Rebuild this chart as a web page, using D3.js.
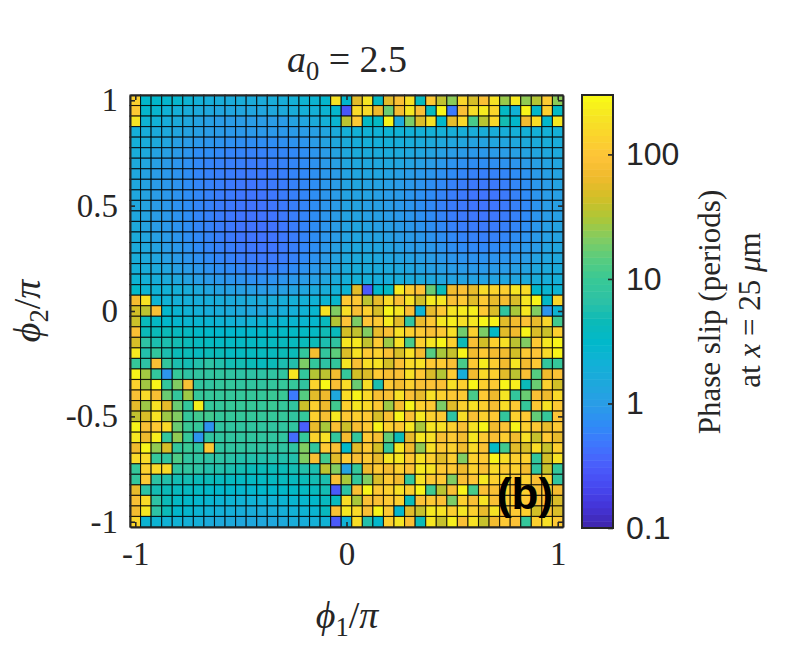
<!DOCTYPE html>
<html>
<head>
<meta charset="utf-8">
<script src="https://cdn.jsdelivr.net/npm/d3@7"></script>
<style>
  html, body { margin: 0; padding: 0; background: #fff; }
  svg { display: block; }
  text { fill: #262626; }
  .serif { font-family: "Liberation Serif", serif; }
  .sans { font-family: "Liberation Sans", sans-serif; }
</style>
</head>
<body>
<div id="chart"></div>
<script>
// phase slip in periods, one list per phi2 row, top row (phi2 = 1) first
const row00 = [130,3,3,2.8,2.7,2.3,2,1.8,1.7,1.6,1.7,1.6,1.6,1.7,1.8,2,2.3,2.4,2.8,190, 3,55,200,3.5,55,85,180,4,110,38,23,150,48,85,190,26,220,24,33,115,23];
const row01 = [110,2.8,2.6,2.2,1.9,1.7,1.5,1.4,1.3,1.3,1.3,1.3,1.3,1.4,1.5,1.7,1.9,2,2.4,2.8, .28,160,160,65,17,75,210,85,4,270,.5,85,170,220,150,3.5,2.2,265,3,130,3.5];
const row02 = [200,2.3,2.1,1.8,1.6,1.4,1.2,1.1,1,1,1,1,1,1,1,1.2,1.3,1.6,2,2.5, 36,110,3.5,3.5,265,1.5,20,50,190,3,58,155,12,35,155,5,3,72,170,3,210];
const row03 = [1.9,1.8,1.6,1.5,1.3,1.2,1.1,1,.95,.9,.9,.9,.9,.9,.9,.95,1,1.1,1.3,1.6,1.9, 2.1,2.2,2.2,2.3,2.2,2.1,2,2,1.9,1.8,1.8,1.7,1.7,1.7,1.8,1.9,2,2,2,2];
const row04 = [1.9,1.7,1.5,1.3,1.1,1,.9,.85,.8,.75,.72,.7,.7,.7,.75,.8,.85,1,1.2,1.4,1.6, 1.8,1.9,1.9,1.9,1.8,1.7,1.6,1.5,1.4,1.3,1.3,1.2,1.2,1.3,1.3,1.4,1.5,1.6,1.7,1.7];
const row05 = [1.7,1.5,1.2,1.1,.95,.85,.7,.7,.65,.6,.6,.58,.58,.6,.62,.65,.72,.85,1,1.2,1.4, 1.6,1.6,1.6,1.6,1.5,1.4,1.3,1.2,1.1,1,.95,.9,.9,.95,1,1.1,1.2,1.3,1.4,1.5];
const row06 = [1.5,1.3,1.1,.95,.85,.75,.65,.6,.58,.55,.55,.52,.52,.55,.58,.62,.68,.78,.95,1.1,1.3, 1.4,1.4,1.4,1.4,1.3,1.2,1.1,1,.9,.8,.75,.7,.7,.72,.78,.85,.95,1.1,1.2,1.3];
const row07 = [1.4,1.2,1,.9,.8,.7,.62,.58,.55,.52,.5,.5,.5,.52,.55,.6,.65,.75,.9,1,1.2, 1.3,1.3,1.3,1.2,1.1,1,.9,.85,.75,.68,.62,.58,.56,.58,.62,.7,.8,.95,1.1,1.2];
const row08 = [1.4,1.2,1,.9,.8,.7,.62,.58,.55,.5,.48,.47,.48,.5,.53,.58,.63,.72,.88,1,1.2, 1.3,1.2,1.2,1.1,1,.9,.8,.72,.65,.58,.54,.5,.5,.5,.55,.62,.72,.9,1,1.2];
const row09 = [1.4,1.2,1,.9,.8,.7,.63,.58,.53,.5,.47,.46,.46,.48,.52,.56,.62,.72,.85,1,1.2, 1.2,1.2,1.1,1,.95,.85,.75,.68,.6,.54,.5,.47,.46,.47,.5,.58,.68,.85,1,1.1];
const row10 = [1.4,1.2,1,.9,.78,.7,.62,.57,.52,.49,.47,.45,.45,.47,.5,.55,.6,.72,.85,1,1.2, 1.2,1.1,1.1,1,.9,.82,.72,.65,.58,.52,.49,.47,.46,.47,.5,.56,.65,.82,1,1.1];
const row11 = [1.4,1.2,1,.9,.8,.7,.62,.57,.52,.48,.46,.45,.45,.46,.49,.54,.6,.7,.85,1,1.2, 1.2,1.1,1.1,1,.92,.85,.75,.68,.6,.54,.5,.48,.47,.48,.52,.58,.68,.85,1,1.1];
const row12 = [1.5,1.2,1,.9,.8,.7,.62,.58,.53,.49,.46,.45,.44,.45,.48,.53,.6,.7,.85,1,1.2, 1.3,1.2,1.1,1.05,.95,.88,.8,.72,.65,.58,.54,.52,.5,.52,.56,.62,.72,.88,1.05,1.2];
const row13 = [1.6,1.3,1.1,.95,.85,.72,.65,.6,.55,.5,.47,.46,.45,.46,.49,.53,.6,.7,.85,1,1.2, 1.3,1.2,1.2,1.1,1,.95,.88,.8,.72,.65,.6,.58,.56,.58,.62,.7,.8,.95,1.1,1.2];
const row14 = [1.6,1.4,1.2,1,.9,.78,.68,.62,.58,.54,.5,.48,.47,.47,.5,.55,.62,.72,.88,1.1,1.3, 1.4,1.3,1.3,1.2,1.1,1,.95,.88,.8,.72,.68,.65,.64,.66,.7,.8,.9,1,1.2,1.3];
const row15 = [1.7,1.5,1.3,1.1,.95,.85,.75,.68,.62,.58,.54,.52,.5,.5,.53,.58,.66,.78,.95,1.2,1.4, 1.5,1.5,1.4,1.3,1.2,1.15,1.05,1,.9,.85,.8,.78,.78,.8,.85,.9,1,1.2,1.3,1.4];
const row16 = [1.9,1.7,1.5,1.3,1.1,1,.88,.78,.72,.68,.63,.6,.58,.58,.62,.68,.78,.9,1.1,1.3,1.6, 1.7,1.6,1.6,1.5,1.4,1.3,1.2,1.1,1.05,1,.95,.92,.92,.95,1,1.1,1.2,1.4,1.5,1.6];
const row17 = [2.3,2,1.8,1.6,1.4,1.2,1.05,.95,.9,.85,.8,.75,.75,.78,.82,.9,1,1.1,1.3,1.6,1.9, 2,1.9,1.8,1.8,1.7,1.6,1.5,1.4,1.3,1.2,1.2,1.15,1.15,1.2,1.3,1.3,1.5,1.7,1.8,1.9];
const row18 = [3.2,2.4,2.2,2.1,1.9,1.7,1.5,1.3,1.2,1.15,1.1,1.05,1,1,1.1,1.2,1.3,1.5,1.7,2,2.4, 55,.3,3,3.5,220,120,90,17,4.5,68,85,60,160,140,125,200,165,3,2.5,2.4];
const row19 = [72,190,2.3,2.2,2,1.9,1.8,1.8,1.7,1.6,1.6,1.6,1.6,1.7,1.8,1.9,2,2.2,2.4,2.7, 110,105,36,58,160,85,185,45,220,200,85,110,55,110,60,75,50,200,265,3.3,150];
const row20 = [45,36,85,2.9,2.5,2.2,2,1.8,1.7,1.6,1.5,1.4,1.4,1.6,1.8,1.9,2.2,2.6,190,21, 170,85,130,48,265,200,85,2.3,60,110,200,225,235,110,50,8,30,210,21,.85,2.4];
const row21 = [42,4.2,3.6,3.1,2.8,2.6,2.6,2.5,2.3,2.2,2,2.2,2.4,2.5,2.6,2.6,2.6,2.8,4,33, 95,20,100,110,220,55,8,62,110,210,235,180,210,265,250,55,70,90,60,150,11];
const row22 = [85,4.5,4.5,4.5,4,3.8,3.4,3.2,3,3,3,3,3.2,3.4,3.5,3.5,3.5,3.6,4.8,4.2, 45,38,21,60,85,180,130,110,85,110,180,18,130,20,3.4,55,68,265,50,42,130];
const row23 = [48,7,5.5,5.5,5,4.5,4,3.8,3.6,3.6,3.6,3.6,3.6,3.8,4,4,4.2,4.5,5.5,7.5, 205,215,38,110,27,180,12,130,205,265,130,4.5,85,45,130,180,36,21,110,210,265];
const row24 = [215,6,8.5,5.5,4.5,4.5,4,4.5,4.5,3.8,3.8,3.8,4,4,4.5,4.5,8.5,75,8.5,15, 50,190,110,130,85,48,180,72,14,30,40,265,72,110,72,72,45,110,100,160,265];
const row25 = [9,7,85,8.5,5.5,5,6,7,6,5,5,4.5,4,4.5,5.5,6,20,8.5,7,8.5, 200,85,170,190,45,85,160,180,110,115,85,12,110,230,120,70,205,72,110,8.5,9];
const row26 = [265,28,8.5,.85,9,7,8,8,8,7.5,7,7,7,7.5,8,210,8.5,33,36,72, 9,45,50,110,80,85,180,110,50,33,115,1.8,72,160,130,55,36,85,14,65,90];
const row27 = [140,28,270,8.5,21,85,8,8,8.5,8.5,8,8,8,8.5,9,9,8,140,290,85, 165,17,170,5.5,110,72,130,85,90,85,180,130,265,130,110,265,235,4.5,17,130,45];
const row28 = [85,160,80,17,8.5,27,9,9,9,9,9,9,9,10,10,.5,14,55,65,1.4, 170,265,160,80,85,180,85,60,180,130,110,110,12,110,65,200,8.5,17,85,65,160];
const row29 = [58,27,190,58,17,8.5,235,9,9,9.5,9.5,9.5,9,10,9,8,42,130,65,11, 130,210,160,110,27,78,265,130,110,20,55,130,180,130,80,175,110,9,110,190,110];
const row30 = [38,48,190,27,21,9,11,11,9,9,9,9,9,9,9,8,9,130,80,210, 110,130,110,48,80,265,85,210,130,110,7,170,85,130,110,8.5,130,110,16,9,100];
const row31 = [265,85,110,160,17,10,9,.8,8,8,8,8,8,8,8,8,.33,60,30,85, 42,80,110,265,130,110,210,30,200,180,130,85,190,265,70,90,265,130,110,60,110];
const row32 = [210,65,235,8.5,24,9,.85,8,8,8,8,8,8,8,8,.4,9,140,180,8.5, 72,8.5,110,80,16,4.5,60,210,180,85,110,75,210,110,85,120,70,180,40,110,60];
const row33 = [65,265,24,48,8.5,10,8,110,8,8,8,7.5,7.5,7.5,7.5,7.5,21,8.5,110,85, 3.2,55,110,45,9,210,65,24,180,110,130,70,160,85,3.5,11,55,48,170,40,130];
const row34 = [160,160,9,8,13,8,7.5,7,7,6.5,6,6,6,6,6,6,21,80,11,55, 115,85,110,60,200,210,110,190,130,55,120,21,130,110,265,170,130,130,8.5,45,190];
const row35 = [9,130,160,160,8,8,7,6,6,5.5,5,4.5,4.5,4.5,4.5,5,6,5.5,36,21, 1.2,9,65,110,75,130,90,220,190,110,110,65,130,85,160,115,130,70,8,40,8.5];
const row36 = [8.5,110,7,6,5,5,4.5,4.5,4,3.8,3.6,3.6,3.6,3.8,4,4,4.5,5,5.5,85, 30,8.5,21,50,110,70,8.5,190,110,110,21,85,100,210,130,160,110,130,85,130,8];
const row37 = [60,7,5,4.5,4,3.8,3.6,3.2,3,3,2.8,2.8,3,3,3.2,3.4,3.6,4,5,.3, 7,85,265,110,130,180,130,265,11,35,85,265,12,85,85,130,90,130,85,110,75];
const row38 = [85,165,7,4.5,3.5,3.2,2.8,2.6,2.4,2.3,2.2,2.2,2.2,2.2,2.4,2.6,2.7,3,4,4, 170,30,85,85,110,130,4.5,90,110,85,20,130,85,190,85,110,130,110,85,90,50];
const row39 = [72,205,7,4.5,3,2.8,2.4,2.2,2,1.9,1.8,1.7,1.7,1.8,1.9,2.1,2.3,2.5,4,85, 210,160,85,265,110,2.8,55,40,215,190,130,200,130,60,190,85,110,130,45,85,50];
const row40 = [150,2.4,2.4,2.2,2.2,2,1.9,1.6,1.5,1.5,1.4,1.4,1.4,1.4,1.5,1.7,1.8,2,2.2,.3, 2.2,170,6,3,130,200,85,4.5,210,40,240,85,190,40,70,110,90,9,130,180,110];

const phaseSlip = [row00,row01,row02,row03,row04,row05,row06,row07,row08,row09,row10,
  row11,row12,row13,row14,row15,row16,row17,row18,row19,row20,
  row21,row22,row23,row24,row25,row26,row27,row28,row29,row30,
  row31,row32,row33,row34,row35,row36,row37,row38,row39,row40];

const xTicks = [-1, 0, 1];
const yTicks = [-1, -0.5, 0, 0.5, 1];
const colorTicks = [0.1, 1, 10, 100];
const colorMin = 0.1;
const colorMax = 300;

// parula colormap
const parulaStops = ["#3e26a8","#4433d6","#4748f0","#4a5cfb","#4075fe","#2f8bf6","#2a9ce7","#1ea8dc",
  "#12b1d6","#01b8ca","#0bbab8","#2cc1a6","#37c897","#56cc80","#80cc63","#abc739",
  "#d1bf27","#efba2d","#fec338","#fbd32d","#f6e622","#f9fb15"];
const parula = d3.piecewise(d3.interpolateRgb, parulaStops);

const width = 789, height = 658;
const plot = { left: 130, right: 563, top: 95, bottom: 527 };
const bar = { left: 582, right: 613, top: 95, bottom: 528 };
const step = 0.05;   // grid spacing in phi/pi

const svg = d3.select("#chart").append("svg")
  .attr("width", width)
  .attr("height", height);

const x = d3.scaleLinear().domain([-1.025, 1.025]).range([plot.left, plot.right]);
const y = d3.scaleLinear().domain([-1.025, 1.025]).range([plot.bottom, plot.top]);
const t = d3.scaleLog().domain([colorMin, colorMax]).range([0, 1]);
const color = v => parula(Math.min(1, Math.max(0, t(v))));

// heatmap cells
const cells = phaseSlip.flatMap((row, r) => row.map((v, c) => ({
  phi1: -1 + c * step,
  phi2: 1 - r * step,
  value: v
})));

svg.append("g").selectAll("rect")
  .data(cells)
  .enter()
  .append("rect")
  .attr("x", d => x(d.phi1 - step / 2))
  .attr("y", d => y(d.phi2 + step / 2))
  .attr("width", d => x(d.phi1 + step / 2) - x(d.phi1 - step / 2))
  .attr("height", d => y(d.phi2 - step / 2) - y(d.phi2 + step / 2))
  .attr("fill", d => color(d.value))
  .attr("stroke", "#000")
  .attr("stroke-opacity", 0.8)
  .attr("stroke-width", 1.1);

// axes: ticks point inward on all four sides
function styleAxis(g) {
  g.selectAll("path").attr("stroke", "#262626").attr("stroke-width", 2);
  g.selectAll("line").attr("stroke", "#262626").attr("stroke-width", 1.6);
}
const tickFmt = d => String(d);

svg.append("g").attr("transform", `translate(0,${plot.bottom})`)
  .call(d3.axisBottom(x).tickValues(xTicks).tickFormat(tickFmt).tickSizeInner(-5).tickSizeOuter(0).tickPadding(15))
  .call(styleAxis)
  .call(g => g.selectAll("text").attr("class", "serif").attr("font-size", 33));
svg.append("g").attr("transform", `translate(0,${plot.top})`)
  .call(d3.axisTop(x).tickValues(xTicks).tickFormat("").tickSizeInner(-5).tickSizeOuter(0))
  .call(styleAxis);
svg.append("g").attr("transform", `translate(${plot.left},0)`)
  .call(d3.axisLeft(y).tickValues(yTicks).tickFormat(tickFmt).tickSizeInner(-5).tickSizeOuter(0).tickPadding(12))
  .call(styleAxis)
  .call(g => g.selectAll("text").attr("class", "serif").attr("font-size", 33));
svg.append("g").attr("transform", `translate(${plot.right},0)`)
  .call(d3.axisRight(y).tickValues(yTicks).tickFormat("").tickSizeInner(-5).tickSizeOuter(0))
  .call(styleAxis);

// colorbar
const barY = d3.scaleLog().domain([colorMin, colorMax]).range([bar.bottom, bar.top]);
const levels = d3.range(64);
svg.append("g").selectAll("rect")
  .data(levels)
  .enter()
  .append("rect")
  .attr("x", bar.left)
  .attr("width", bar.right - bar.left)
  .attr("y", d => bar.bottom - (d + 1) / 64 * (bar.bottom - bar.top))
  .attr("height", (bar.bottom - bar.top) / 64 + 0.5)
  .attr("fill", d => parula((d + 0.5) / 64));
svg.append("rect")
  .attr("x", bar.left).attr("y", bar.top)
  .attr("width", bar.right - bar.left).attr("height", bar.bottom - bar.top)
  .attr("fill", "none").attr("stroke", "#262626").attr("stroke-width", 2);
svg.append("g").attr("transform", `translate(${bar.right},0)`)
  .call(d3.axisRight(barY).tickValues(colorTicks).tickFormat(tickFmt).tickSizeInner(-5).tickSizeOuter(0).tickPadding(13))
  .call(styleAxis)
  .call(g => g.select("path").remove())
  .call(g => g.selectAll("text").attr("class", "sans").attr("font-size", 32));
// the lowest label sits just above the frame end in the original
// labels
function mathLabel(px, py, rotate, size, parts) {
  const txt = svg.append("text")
    .attr("class", "serif")
    .attr("text-anchor", "middle")
    .attr("font-size", size)
    .attr("transform", `translate(${px},${py}) rotate(${rotate})`);
  parts.forEach(p => {
    const s = txt.append("tspan").text(p.t);
    if (p.i) s.attr("font-style", "italic");
    if (p.sub) s.attr("font-size", size * 0.7).attr("dy", size * 0.22);
    if (p.up) s.attr("dy", -size * 0.22);
  });
}
mathLabel(347, 72, 0, 38, [{ t: "a", i: true }, { t: "0", sub: true }, { t: " = 2.5", up: true }]);
mathLabel(347, 628, 0, 38, [{ t: "ϕ", i: true }, { t: "1", sub: true }, { t: "/", up: true }, { t: "π", i: true }]);
mathLabel(40, 311, -90, 38, [{ t: "ϕ", i: true }, { t: "2", sub: true }, { t: "/", up: true }, { t: "π", i: true }]);
mathLabel(720, 312, -90, 31, [{ t: "Phase slip (periods)" }]);
mathLabel(760, 310, -90, 31, [{ t: "at " }, { t: "x", i: true }, { t: " = 25 " }, { t: "μ", i: true }, { t: "m" }]);

svg.append("text")
  .attr("class", "sans")
  .attr("x", 525)
  .attr("y", 509)
  .attr("text-anchor", "middle")
  .attr("font-size", 44)
  .attr("font-weight", "bold")
  .style("fill", "#000")
  .text("(b)");
</script>
</body>
</html>
